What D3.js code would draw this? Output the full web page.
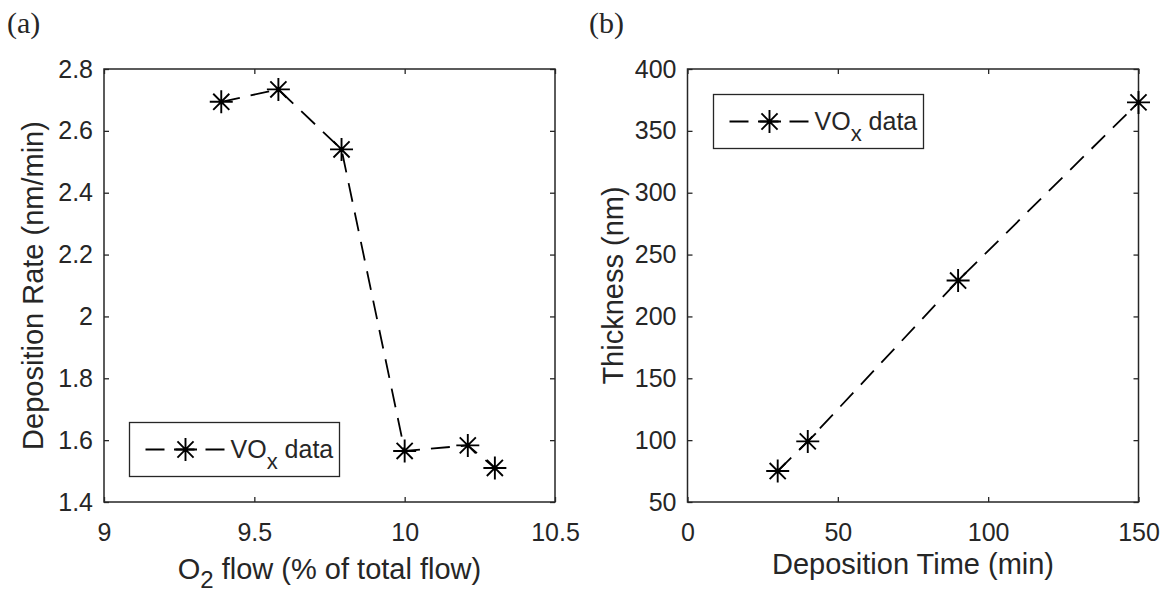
<!DOCTYPE html>
<html lang="en">
<head>
<meta charset="utf-8">
<title>VOx deposition</title>
<script src="https://cdn.jsdelivr.net/npm/d3@7"></script>
<style>
  body { margin: 0; background: #fff; }
  svg text { font-family: "Liberation Sans", Arial, sans-serif; fill: #262626; }
</style>
</head>
<body>
<svg id="fig" width="1165" height="593"></svg>
<script>
// panel (a): deposition rate vs O2 flow
const o2Flow = [9.39, 9.58, 9.79, 10.0, 10.21, 10.30];
const depRate = [2.694, 2.734, 2.54, 1.565, 1.583, 1.51];
const xTicksA = [9, 9.5, 10, 10.5];
const xLabelsA = ["9", "9.5", "10", "10.5"];
const yTicksA = [1.4, 1.6, 1.8, 2.0, 2.2, 2.4, 2.6, 2.8];
const yLabelsA = ["1.4", "1.6", "1.8", "2", "2.2", "2.4", "2.6", "2.8"];

// panel (b): thickness vs deposition time
const depTime = [30, 40, 90, 150];
const thickness = [75, 99, 229, 373];
const xTicksB = [0, 50, 100, 150];
const xLabelsB = ["0", "50", "100", "150"];
const yTicksB = [50, 100, 150, 200, 250, 300, 350, 400];
const yLabelsB = ["50", "100", "150", "200", "250", "300", "350", "400"];

const svg = d3.select("#fig");
const ink = "#262626";
const plotTop = 69, plotBottom = 502;

// 8-armed asterisk like matlab's '*'
function star(r) {
  const d = r * 0.7;
  return `M${-r},0H${r}M0,${-r}V${r}M${-d},${-d}L${d},${d}M${-d},${d}L${d},${-d}`;
}

function panel(opt) {
  const x = d3.scaleLinear().domain(opt.xdom).range([opt.left, opt.left + 451]);
  const y = d3.scaleLinear().domain(opt.ydom).range([plotBottom, plotTop]);
  const g = svg.append("g");

  const fmtX = d => opt.xlab[opt.xt.indexOf(d)];
  const fmtY = d => opt.ylab[opt.yt.indexOf(d)];

  const ax = [
    [d3.axisBottom(x).tickValues(opt.xt).tickFormat(fmtX).tickPadding(21), plotBottom, 0],
    [d3.axisTop(x).tickValues(opt.xt).tickFormat(""), plotTop, 0],
    [d3.axisLeft(y).tickValues(opt.yt).tickFormat(fmtY).tickPadding(11), 0, x.range()[0]],
    [d3.axisRight(y).tickValues(opt.yt).tickFormat(""), 0, x.range()[1]]
  ];
  ax.forEach(([a, ty, tx]) => {
    const s = g.append("g")
      .attr("transform", `translate(${tx},${ty})`)
      .call(a.tickSizeInner(-5).tickSizeOuter(0));
    s.select(".domain").remove();
    s.selectAll("line").attr("stroke", ink).attr("stroke-width", 1.3);
    s.selectAll("text").attr("font-size", 25).attr("fill", ink)
      .attr("font-family", "'Liberation Sans', Arial, sans-serif");
  });

  g.append("rect")
    .attr("x", x.range()[0]).attr("y", plotTop)
    .attr("width", x.range()[1] - x.range()[0]).attr("height", plotBottom - plotTop)
    .attr("fill", "none").attr("stroke", ink).attr("stroke-width", 1.5);

  const pts = opt.xs.map((v, i) => [x(v), y(opt.ys[i])]);
  g.append("path")
    .attr("d", d3.line()(pts))
    .attr("fill", "none").attr("stroke", "#000")
    .attr("stroke-width", 1.8).attr("stroke-dasharray", "19,11");
  g.selectAll(".mk").data(pts).join("path")
    .attr("class", "mk")
    .attr("transform", d => `translate(${d[0]},${d[1]})`)
    .attr("d", star(11.5))
    .attr("stroke", "#000").attr("stroke-width", 1.9).attr("fill", "none");

  // legend
  const L = opt.leg[0], T = opt.leg[1];
  const lg = g.append("g");
  lg.append("rect").attr("x", L).attr("y", T).attr("width", 210).attr("height", 54)
    .attr("fill", "#fff").attr("stroke", ink).attr("stroke-width", 1.3);
  lg.append("line").attr("x1", L + 16).attr("x2", L + 95).attr("y1", T + 27).attr("y2", T + 27)
    .attr("stroke", "#000").attr("stroke-width", 1.8).attr("stroke-dasharray", "19,11");
  lg.append("path").attr("transform", `translate(${L + 56},${T + 27})`).attr("d", star(11.5))
    .attr("stroke", "#000").attr("stroke-width", 1.9).attr("fill", "none");
  const lt = lg.append("text").attr("x", L + 101).attr("y", T + 35).attr("font-size", 25);
  lt.append("tspan").text("VO");
  lt.append("tspan").attr("dy", 11).attr("font-size", 22).text("x");
  lt.append("tspan").attr("dy", -11).text(" data");

  // axis labels
  const xl = g.append("text")
    .attr("x", (x.range()[0] + x.range()[1]) / 2).attr("y", opt.xlabY)
    .attr("text-anchor", "middle").attr("font-size", 29);
  opt.xtitle(xl);
  g.append("text")
    .attr("transform", `translate(${opt.ylabX},${(plotTop + plotBottom) / 2}) rotate(-90)`)
    .attr("text-anchor", "middle").attr("font-size", 29)
    .text(opt.ytitle);

  svg.append("text").attr("x", opt.tag[0]).attr("y", opt.tag[1])
    .style("font-family", "'Liberation Serif', 'Times New Roman', serif")
    .attr("font-size", 30).text(opt.tagText);
}

panel({
  left: 104, xdom: [9, 10.5], ydom: [1.4, 2.8],
  xt: xTicksA, xlab: xLabelsA, yt: yTicksA, ylab: yLabelsA,
  xs: o2Flow, ys: depRate,
  leg: [129.5, 422.5],
  xlabY: 579, ylabX: 43,
  xtitle: t => {
    t.append("tspan").text("O");
    t.append("tspan").attr("dy", 9).attr("font-size", 24).text("2");
    t.append("tspan").attr("dy", -9).text(" flow (% of total flow)");
  },
  ytitle: "Deposition Rate (nm/min)",
  tag: [7, 33], tagText: "(a)"
});

panel({
  left: 687.5, xdom: [0, 150], ydom: [50, 400],
  xt: xTicksB, xlab: xLabelsB, yt: yTicksB, ylab: yLabelsB,
  xs: depTime, ys: thickness,
  leg: [713.5, 94.5],
  xlabY: 574, ylabX: 623,
  xtitle: t => t.text("Deposition Time (min)"),
  ytitle: "Thickness (nm)",
  tag: [589, 33], tagText: "(b)"
});
</script>
</body>
</html>
